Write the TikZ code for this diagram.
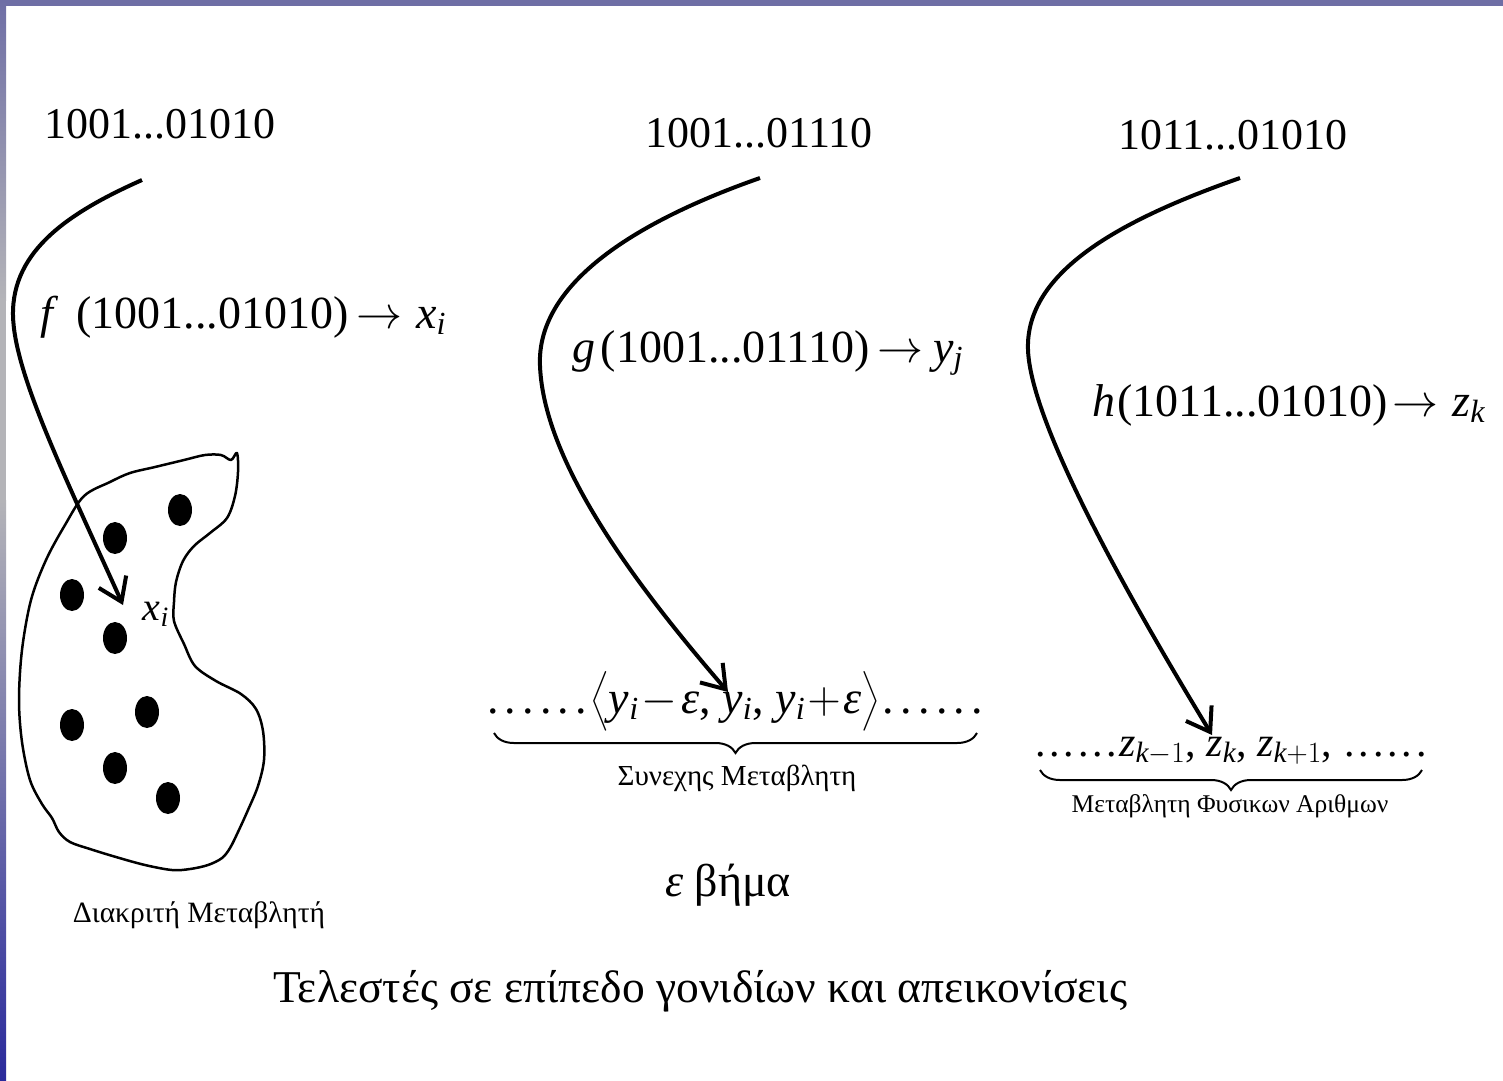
\RequirePackage{fix-cm}
\documentclass[tikz,border=0pt]{standalone}
\usepackage{amsmath}
\usepackage{fontspec}
\setmainfont{Liberation Serif}
\usetikzlibrary{arrows.meta,decorations.pathreplacing}
\definecolor{barpurple}{HTML}{6E6EA5}
\definecolor{bargrey}{HTML}{B4B4B8}
\definecolor{barmid}{HTML}{7E7EAC}
\definecolor{barblue}{HTML}{2A2A9C}
\newcommand\fsz[1]{\fontsize{#1}{#1}\selectfont}
\newcommand\sbi[1]{$_{\textit{#1}}$}
\newcommand\sbm[1]{$_{#1}$}
\newcommand\dd{\makebox[0.385em][c]{.}}
\newcommand\dotrow{\dd\dd\dd\dd\dd\dd}
\newcommand\de{\makebox[0.34em][c]{.}}
\newcommand\dotrowb{\de\de\de\de\de\de}
\tikzset{
  mapcurve/.style={line width=4pt, -{Straight Barb[length=22pt,width=30pt]}},
  bigtxt/.style={inner sep=0pt, anchor=base west, font=\fsz{44}},
  formula/.style={inner sep=0pt, anchor=base west, font=\fsz{46}},
  bracestyle/.style={decorate, decoration={brace, mirror, amplitude=20pt}, line width=2pt},
  blob/.style={line width=2.5pt, line join=round},
}
\begin{document}
\begin{tikzpicture}[x=1pt,y=-1pt]
\useasboundingbox (0,0) rectangle (1503,1080);
\fill[white] (0,0) rectangle (1503,1080);
% frame bars
\fill[barpurple] (0,0) rectangle (1503,6);
\shade[top color=barpurple, bottom color=bargrey] (0,0) rectangle (6,300);
\fill[bargrey] (0,299) rectangle (6,501);
\shade[top color=bargrey, middle color=barmid, bottom color=barblue] (0,500) rectangle (6,1080);

% top strings
\node[bigtxt] (t1) at (44,138) {1001...01010};
\node[bigtxt] (t2) at (645,147) {1001...01110};
\node[bigtxt] (t3) at (1118,149) {1011...01010};

% formulas
\node[formula] (f1) at (40,328) {\textit{f}\hspace{0.4em}(1001...01010)\,$\rightarrow$\hspace{0.3em}\textit{x}\sbi{i}};
\node[formula] (f2) at (572,362) {\textit{g}\hspace{0.12em}(1001...01110)\,$\rightarrow$\hspace{0.22em}\textit{y}\sbi{j}};
\node[formula] (f3) at (1092,416) {\textit{h}\hspace{0.05em}(1011...01010)\hspace{0.1em}$\rightarrow$\hspace{0.3em}\textit{z}\sbi{k}};

% blob (discrete variable)
\draw[blob] plot[smooth cycle, tension=0.55] coordinates {
 (237,453) (238,472) (235,496) (227,518) (210,533) (194,546) (183,561) (176,582)
 (174,602) (174,621) (184,644) (195,666) (216,681) (241,694) (256,709) (263,731)
 (264,760) (258,786) (248,810) (238,832) (230,848) (222,858) (208,865) (190,869)
 (172,870) (145,865) (116,857) (90,849) (70,842) (59,832) (52,818) (42,804)
 (30,780) (22,742) (19,700) (22,650) (31,600) (46,560) (65,525) (84,496)
 (110,482) (130,473) (155,467) (184,460) (205,455) (221,455) (231,460)};
\foreach \p in {(180,510),(115,538),(72,595),(115,638),(147,712),(72,725),(115,768),(168,798)}
  \fill \p ellipse [x radius=12pt, y radius=16pt];
\node[inner sep=0pt, font=\fsz{40}] (xi) at (156,614) {\textit{x}\sbi{i}};

% continuous variable
\node[inner sep=0pt, anchor=base, font=\fsz{46}] (m2) at (735,713)
  {\dotrow$\big\langle$\textit{y}\sbi{i}\hspace{0.05em}$-$\hspace{0.1em}\textit{ε}, \textit{y}\sbi{i}, \textit{y}\sbi{i}\hspace{0.05em}$+$\hspace{0.05em}\textit{ε}$\big\rangle$\dotrow};
\coordinate (b2l) at (494,733);
\coordinate (b2r) at (977,733);
\draw[bracestyle] (b2l) -- (b2r);
\node[inner sep=0pt, font=\fsz{29}] (l2) at (737,778) {Συνεχης Μεταβλητη};

% natural numbers variable
\node[inner sep=0pt, anchor=base, font=\fsz{42}] (m3) at (1231,756)
  {\dotrowb\textit{z}\sbm{\textit{k}-1}, \textit{z}\sbi{k}, \textit{z}\sbm{\textit{k}+1}, \dotrowb};
\coordinate (b3l) at (1040,770);
\coordinate (b3r) at (1422,770);
\draw[bracestyle] (b3l) -- (b3r);
\node[inner sep=0pt, font=\fsz{25.5}] (l3) at (1230,806) {Μεταβλητη Φυσικων Αριθμων};

% other labels
\node[inner sep=0pt, font=\fsz{29.5}] (l1) at (199,915) {Διακριτή Μεταβλητή};
\node[inner sep=0pt, anchor=base west, font=\fsz{46}] (eps) at (665,896) {\textit{ε} βήμα};
\node[inner sep=0pt, anchor=base west, font=\fsz{45.5}] (cap) at (273,1002) {Τελεστές σε επίπεδο γονιδίων και απεικονίσεις};

% mapping curves
\coordinate (s1) at (142,180);
\coordinate (e1) at (123,605);
\coordinate (s2) at (760,178);
\coordinate (e2) at (728,692);
\coordinate (s3) at (1240,178);
\coordinate (e3) at (1212,735);
\draw[mapcurve] (s1) .. controls (70,212) and (12,250) .. (13,315)
  .. controls (14,372) and (62,470) .. (e1);
\draw[mapcurve] (s2) .. controls (640,220) and (536,282) .. (540,366)
  .. controls (544,465) and (640,590) .. (e2);
\draw[mapcurve] (s3) .. controls (1120,220) and (1025,272) .. (1028,350)
  .. controls (1031,425) and (1130,600) .. (e3);
\end{tikzpicture}
\end{document}
